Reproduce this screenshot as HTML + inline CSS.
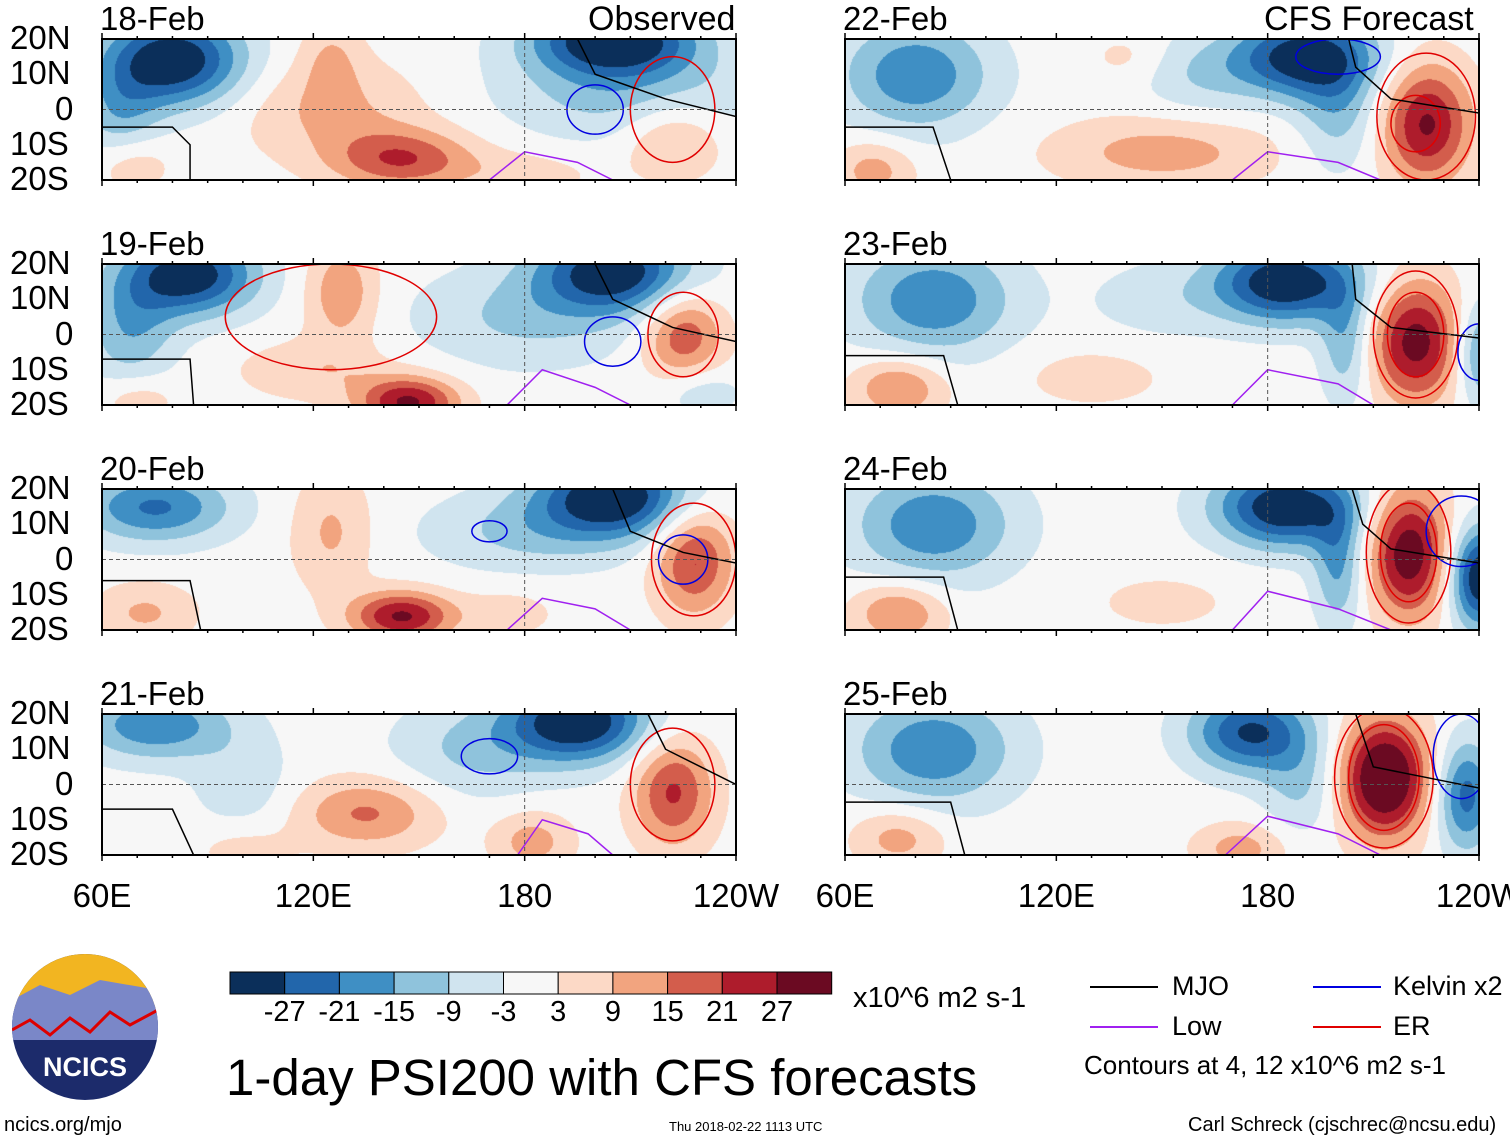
<!DOCTYPE html>
<html><head><meta charset="utf-8"><style>
body{margin:0;background:#fff;width:1510px;height:1142px;overflow:hidden;position:relative;font-family:"Liberation Sans",sans-serif}
.t{position:absolute;white-space:nowrap;color:#000}
canvas{position:absolute}
</style></head><body>
<svg id="ov" width="1510" height="1142" style="position:absolute;left:0;top:0"></svg>
<script>
const panelDates=["18-Feb","19-Feb","20-Feb","21-Feb","22-Feb","23-Feb","24-Feb","25-Feb"];
// blobs: [lon, lat, amplitude, sigmaLon, sigmaLat]
const blobs0=[[80,14,-34,14,9],[65,-2,-12,8,10],[205,20,-34,16,7],[210,5,-12,25,10],[145,-14,20,14,6],[125,0,10,18,10],[125,15,8,6,8],[222,-8,12,10,8],[68,-15,9,8,6],[180,-18,6,15,5]];
const blobs1=[[85,17,-32,13,8],[68,2,-14,9,12],[205,18,-32,15,8],[180,5,-10,22,10],[147,-19,28,10,5],[128,12,14,7,10],[225,0,20,8,9],[120,-10,8,15,6],[230,-16,-8,8,5],[70,-18,8,8,5]];
const blobs2=[[75,15,-22,15,7],[205,18,-34,15,8],[145,-16,28,10,5],[125,8,10,8,12],[228,0,22,8,11],[180,8,-10,20,8],[72,-15,10,10,6],[175,-15,6,10,5]];
const blobs3=[[75,17,-20,15,7],[195,18,-34,14,8],[135,-8,16,14,7],[222,-2,22,8,11],[182,-16,12,8,6],[100,0,-7,10,10],[165,10,-10,16,10],[100,-18,6,10,5]];
const blobs4=[[80,10,-20,15,11],[190,15,-32,14,8],[200,0,-12,8,12],[225,-4,28,9,12],[68,-17,12,8,6],[150,-12,12,22,7],[160,10,-8,12,8],[140,15,5,8,5]];
const blobs5=[[85,10,-20,16,11],[185,15,-34,14,8],[202,-2,-14,5,12],[222,-2,30,9,12],[240,-5,-18,5,10],[75,-15,16,9,6],[150,10,-6,15,8],[130,-12,6,15,6]];
const blobs6=[[85,10,-20,16,11],[185,15,-34,14,8],[200,-2,-16,5,12],[220,2,32,8,13],[240,-5,-34,6,10],[75,-15,16,9,6],[150,-12,5,15,6]];
const blobs7=[[85,10,-20,16,11],[175,15,-28,12,8],[190,0,-10,8,10],[213,2,38,9,12],[236,-3,-24,6,11],[75,-15,12,9,6],[172,-18,12,9,5]];
const allBlobs=[blobs0,blobs1,blobs2,blobs3,blobs4,blobs5,blobs6,blobs7];
// ER (red) contour ellipses: [lon, lat, rLon, rLat]
const erRings=[[[222,0,12,15]],[[225,0,10,12],[125,5,30,15]],[[228,0,12,16]],[[222,0,12,16]],[[225,-2,14,18],[222,-4,7,8]],[[222,0,12,18],[222,0,8,12]],[[220,2,12,20],[220,2,8,14]],[[213,2,14,20],[213,2,10,15]]];
const kelvinRings=[[[200,0,8,7]],[[205,-2,8,7]],[[225,0,7,7],[170,8,5,3]],[[170,8,8,5]],[[200,15,12,5]],[[240,-5,6,8]],[[235,8,10,10]],[[235,8,8,12]]];
// MJO (black) polylines [lon,lat]
const mjoLines=[[[[60,-5],[80,-5],[85,-10],[85,-20]],[[195,20],[200,10],[220,3],[240,-2]]],
[[[60,-7],[85,-7],[86,-20]],[[200,20],[205,10],[222,2],[240,-2]]],
[[[60,-6],[85,-6],[88,-20]],[[205,20],[210,8],[225,2],[240,-1]]],
[[[60,-7],[80,-7],[86,-20]],[[215,20],[220,10],[240,0]]],
[[[60,-5],[85,-5],[90,-20]],[[203,20],[205,12],[215,3],[240,-1]]],
[[[60,-6],[88,-6],[92,-20]],[[204,20],[205,10],[215,2],[240,-1]]],
[[[60,-5],[88,-5],[92,-20]],[[204,20],[207,10],[215,3],[240,-1]]],
[[[60,-5],[90,-5],[94,-20]],[[205,20],[210,5],[225,2],[240,-1]]]];
const lowLines=[[[170,-20],[180,-12],[195,-15],[205,-20]],[[175,-20],[185,-10],[200,-15],[210,-20]],[[175,-20],[185,-11],[200,-14],[210,-20]],[[178,-20],[185,-10],[198,-14],[205,-20]],[[170,-20],[180,-12],[200,-15],[212,-20]],[[170,-20],[180,-10],[200,-14],[210,-20]],[[170,-20],[180,-9],[200,-14],[215,-20]],[[168,-20],[180,-9],[200,-14],[212,-20]]];
const levels=[-27,-21,-15,-9,-3,3,9,15,21,27];
const colors=["#0b2f5a","#2266ab","#3f8fc4","#8fc3dc","#d0e4ef","#f7f7f7","#fcd9c6","#f2a47f","#d35d4c","#ae1c2c","#6b0a22"];
const cbLabels=["-27","-21","-15","-9","-3","3","9","15","21","27"];
const latTicks=["20N","10N","0","10S","20S"];
const lonTicks=["60E","120E","180","120W"];

const W=634,H=141;
const lefts=[102,845],tops=[39,264,489,714];
function xs(lon,x0){return x0+(lon-60)/180*W;}
function ys(lat,y0){return y0+(20-lat)/40*H;}
function hex(c){return [parseInt(c.slice(1,3),16),parseInt(c.slice(3,5),16),parseInt(c.slice(5,7),16)];}
const rgb=colors.map(hex);
const svg=document.getElementById('ov');
const NS="http://www.w3.org/2000/svg";
function S(tag,attrs,parent){const e=document.createElementNS(NS,tag);for(const k in attrs)e.setAttribute(k,attrs[k]);(parent||svg).appendChild(e);return e;}
function T(txt,x,y,size,name,extra){const d=document.createElement('div');d.className='t';d.textContent=txt;d.style.left=x+'px';d.style.top=y+'px';d.style.fontSize=size+'px';if(extra)Object.assign(d.style,extra);


document.body.appendChild(d);return d;}

allBlobs.forEach((bl,i)=>{
  const col=i<4?0:1,row=i%4;const x0=lefts[col],y0=tops[row];
  const cv=document.createElement('canvas');cv.width=W;cv.height=H;cv.style.left=x0+'px';cv.style.top=y0+'px';
  
  
  document.body.insertBefore(cv,svg);
  const ctx=cv.getContext('2d');const img=ctx.createImageData(W,H);
  for(let py=0;py<H;py++){const lat=20-py/H*40;for(let px=0;px<W;px++){const lon=60+px/W*180;let v=0;
    for(const b of bl){const dx=(lon-b[0])/b[3],dy=(lat-b[1])/b[4];v+=b[2]*Math.exp(-0.5*(dx*dx+dy*dy));}
    let k=0;while(k<levels.length&&v>levels[k])k++;const c=rgb[k];const o=(py*W+px)*4;img.data[o]=c[0];img.data[o+1]=c[1];img.data[o+2]=c[2];img.data[o+3]=255;}}
  ctx.putImageData(img,0,0);
  const g=S('g',{});
  
  
  const cp=S('clipPath',{id:'c'+i},g);S('rect',{x:x0,y:y0,width:W,height:H},cp);
  const lg2=S('g',{'clip-path':'url(#c'+i+')'},g);
  erRings[i].forEach(r=>{const e=S('ellipse',{cx:xs(r[0],x0),cy:ys(r[1],y0),rx:r[2]*W/180,ry:r[3]*H/40,fill:'none',stroke:'#e00000','stroke-width':1.5},lg2);});
  kelvinRings[i].forEach(r=>{const e=S('ellipse',{cx:xs(r[0],x0),cy:ys(r[1],y0),rx:r[2]*W/180,ry:r[3]*H/40,fill:'none',stroke:'#0000e0','stroke-width':1.5},lg2);});
  mjoLines[i].forEach(L=>{const p=S('polyline',{points:L.map(q=>xs(q[0],x0)+','+ys(q[1],y0)).join(' '),fill:'none',stroke:'#000','stroke-width':1.5},lg2);});
  const pl=S('polyline',{points:lowLines[i].map(q=>xs(q[0],x0)+','+ys(q[1],y0)).join(' '),fill:'none',stroke:'#a020f0','stroke-width':1.5},lg2);
  S('line',{x1:x0,x2:x0+W,y1:ys(0,y0),y2:ys(0,y0),stroke:'#555','stroke-dasharray':'4,3','stroke-width':1},g);
  S('line',{x1:xs(180,x0),x2:xs(180,x0),y1:y0,y2:y0+H,stroke:'#555','stroke-dasharray':'4,3','stroke-width':1},g);
  const fr=S('rect',{x:x0,y:y0,width:W,height:H,fill:'none',stroke:'#000','stroke-width':2},g);
  
  for(let lon=60;lon<=240;lon+=10){const big=(lon-60)%60===0;S('line',{x1:xs(lon,x0),x2:xs(lon,x0),y1:y0+H,y2:y0+H+(big?6:3),stroke:'#000','stroke-width':1.5},g);S('line',{x1:xs(lon,x0),x2:xs(lon,x0),y1:y0,y2:y0-(big?6:3),stroke:'#000','stroke-width':1.5},g);}
  T(panelDates[i],x0-2,y0-39,33,'panel-date-label');
  if(col===0)latTicks.forEach((l,j)=>T(l,(l==='0'?55:10),y0-20+j*35.25,33,'lat-tick-label',{width:'64px',textAlign:l==='0'?'left':'left'}));
});
T("Observed",588,0,34,'observed-label');
T("CFS Forecast",1264,0,34,'cfs-forecast-label');
[102,845].forEach(x0=>lonTicks.forEach((l,j)=>{T(l,xs(60+j*60,x0),877,33,'lon-tick-label',{transform:'translateX(-50%)'});}));

// colorbar
const cb=S('g',{});
colors.forEach((c,k)=>S('rect',{x:230+k*54.7,y:972,width:54.7,height:22,fill:c,stroke:'#000','stroke-width':1},cb));
cbLabels.forEach((l,k)=>T(l,230+(k+1)*54.7,996,29,'colorbar-tick-label',{transform:'translateX(-50%)'}));
T("x10^6 m2 s-1",853,982,29,'colorbar-units');
T("1-day PSI200 with CFS forecasts",226,1048,51,'chart-title');
// legend
const lg=[["MJO","#000",1090,987,1172],["Low","#a020f0",1090,1027,1172],["Kelvin x2","#0000e0",1313,987,1393],["ER","#e00000",1313,1027,1393]];
lg.forEach(e=>{const l=S('line',{x1:e[2],x2:e[2]+68,y1:e[3],y2:e[3],stroke:e[1],'stroke-width':2});T(e[0],e[4],971,27,'legend-entry');});
document.querySelectorAll('.t').forEach(d=>{if(d.textContent==='Low'||d.textContent==='ER')d.style.top='1011px';});
T("Contours at 4, 12 x10^6 m2 s-1",1084,1050,26,'contour-note');
T("ncics.org/mjo",4,1114,20,'source-url');
T("Thu 2018-02-22 1113 UTC",669,1119,13,'timestamp');
T("Carl Schreck (cjschrec@ncsu.edu)",1188,1114,20,'author-credit');
// logo
const lo=S('g',{});
S('clipPath',{id:'lc'},lo);S('circle',{cx:85,cy:1027,r:73},document.getElementById('lc'));
S('circle',{cx:85,cy:1027,r:73,fill:'#1c2b6b'},lo);
S('rect',{x:12,y:954,width:146,height:55,fill:'#f2b521','clip-path':'url(#lc)'},lo);
S('path',{d:'M12 1000 L40 985 L70 995 L100 980 L158 990 L158 1040 L12 1040Z',fill:'#7a87c8','clip-path':'url(#lc)'},lo);
S('path',{d:'M12 1030 L30 1020 L50 1035 L70 1018 L90 1032 L110 1012 L130 1025 L158 1010',fill:'none',stroke:'#d00','stroke-width':3,'clip-path':'url(#lc)'},lo);
const nt=S('text',{x:85,y:1076,'text-anchor':'middle','font-size':27,'font-weight':'bold',fill:'#fff','font-family':'Liberation Sans, sans-serif'},lo);nt.textContent='NCICS';
</script>
</body></html>
